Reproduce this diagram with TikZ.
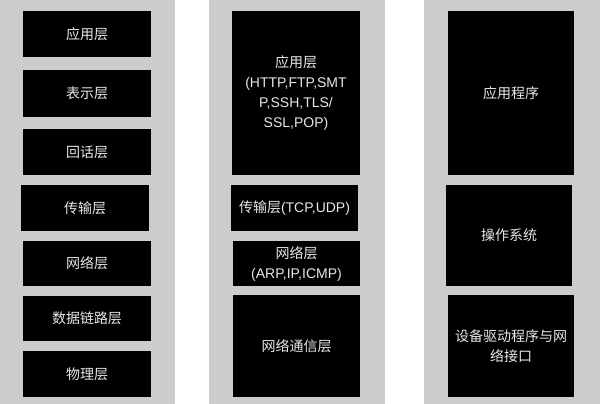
\documentclass[tikz,border=0pt]{standalone}
\usepackage{fontspec}
\setmainfont{Noto Sans CJK SC}
\newfontfamily\latin{Liberation Sans}
\usepackage{tikz}
\definecolor{bg}{RGB}{204, 204, 204}
\definecolor{txt}{RGB}{232, 232, 232}
\usetikzlibrary{positioning}

\begin{document}
\begin{tikzpicture}[x=1pt, y=-1pt,
  layer/.style={fill=black, text=txt, inner sep=0pt, align=center,
    font=\fontsize{14pt}{20pt}\selectfont},
  col/.style={fill=bg, draw=none}]
\useasboundingbox (0,0) rectangle (600,404);
% grey columns
\fill [col] (0,0) rectangle (175,404);
\fill [col] (209,0) rectangle (385,404);
\fill [col] (424,0) rectangle (600,404);
% OSI model
\node (osi1) [layer, minimum width=128pt, minimum height=46pt] at (87, 34)  {应用层};
\node (osi2) [layer, minimum width=128pt, minimum height=47pt] at (87, 93.5)  {表示层};
\node (osi3) [layer, minimum width=128pt, minimum height=46pt] at (87, 152)  {回话层};
\node (osi4) [layer, minimum width=128pt, minimum height=46pt] at (85, 208)  {传输层};
\node (osi5) [layer, minimum width=128pt, minimum height=45pt] at (87, 263.5)  {网络层};
\node (osi6) [layer, minimum width=128pt, minimum height=45pt] at (87, 318.5)  {数据链路层};
\node (osi7) [layer, minimum width=128pt, minimum height=46pt] at (87, 374)  {物理层};
% TCP/IP model
\node (tcp1) [layer, minimum width=128pt, minimum height=164pt] at (296, 93)  {应用层\\{\latin (HTTP,FTP,SMT}\\{\latin P,SSH,TLS/}\\{\latin SSL,POP)}};
\node (tcp2) [layer, minimum width=127pt, minimum height=46pt] at (294.5, 208)  {传输层{\latin (TCP,UDP)}};
\node (tcp3) [layer, minimum width=127pt, minimum height=45pt] at (296.5, 263.5)  {网络层\\{\latin (ARP,IP,ICMP)}};
\node (tcp4) [layer, minimum width=127pt, minimum height=102pt] at (296.5, 346)  {网络通信层};
% system
\node (sys1) [layer, minimum width=126pt, minimum height=164pt] at (511, 93)  {应用程序};
\node (sys2) [layer, minimum width=126pt, minimum height=101pt] at (509, 235.5)  {操作系统};
\node (sys3) [layer, minimum width=126pt, minimum height=102pt] at (511, 346)  {设备驱动程序与网\\络接口};
\end{tikzpicture}
\end{document}
